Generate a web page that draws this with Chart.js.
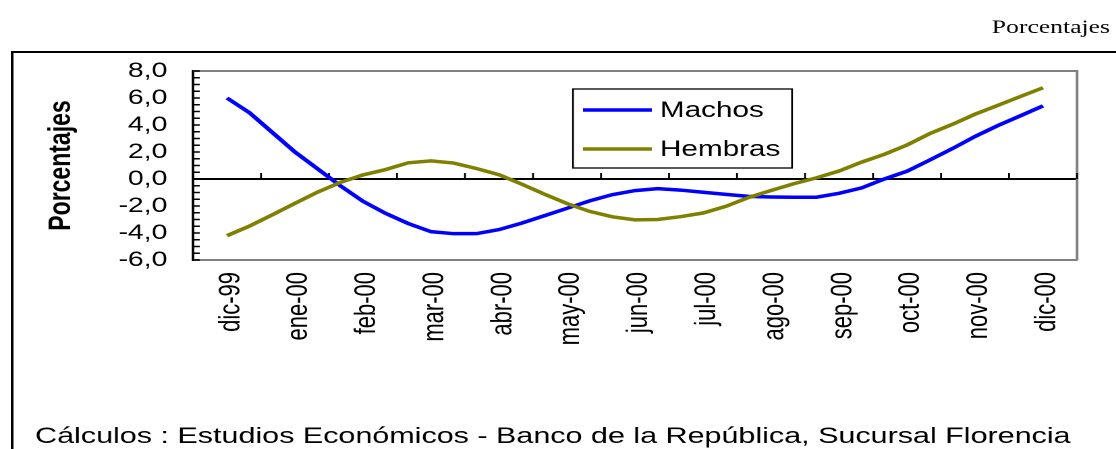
<!DOCTYPE html>
<html>
<head>
<meta charset="utf-8">
<script src="https://cdn.jsdelivr.net/npm/chart.js"></script>
<style>
  html, body { margin: 0; padding: 0; background: #fff; overflow: hidden; }
  /* the original picture is stretched sideways, so draw narrow and widen it */
  #wrap { width: 827px; height: 449px; transform: scaleX(1.3495); transform-origin: 0 0; }
</style>
</head>
<body>
<div id="wrap"><canvas id="chart" width="827" height="449"></canvas></div>
<script>
  // month labels on the x axis
  var months = ['dic-99', 'ene-00', 'feb-00', 'mar-00', 'abr-00', 'may-00', 'jun-00',
                'jul-00', 'ago-00', 'sep-00', 'oct-00', 'nov-00', 'dic-00'];

  // three readings per month
  var perMonth = 3;
  var machos = [6.0, 4.9, 3.45, 2.0, 0.75, -0.5, -1.65, -2.55, -3.3, -3.9, -4.05, -4.05, -3.75,
                -3.27, -2.72, -2.17, -1.62, -1.16, -0.86, -0.71, -0.82, -0.98, -1.14, -1.29, -1.33,
                -1.35, -1.35, -1.06, -0.66, 0.0, 0.58, 1.4, 2.25, 3.15, 3.95, 4.68, 5.42];
  var hembras = [-4.2, -3.48, -2.65, -1.8, -0.97, -0.25, 0.3, 0.7, 1.2, 1.34, 1.18, 0.78, 0.32,
                 -0.38, -1.12, -1.82, -2.4, -2.8, -3.03, -3.0, -2.79, -2.52, -2.03, -1.38, -0.85,
                 -0.35, 0.08, 0.59, 1.25, 1.83, 2.52, 3.36, 4.05, 4.8, 5.45, 6.11, 6.76];

  var yMin = -6, yMax = 8, yStep = 2, yMinor = 0.5;
  var seriesNames = ['Machos', 'Hembras'];
  var seriesColors = ['#0000ff', '#808000'];

  function toPoints(values) {
    return values.map(function(v, i) { return { x: i / perMonth, y: v }; });
  }

  var fontFamily = "'Liberation Sans', Arial, sans-serif";
  Chart.defaults.font.family = fontFamily;
  Chart.defaults.color = '#000';

  // axis bits, frame, legend and notes
  var decor = {
    id: 'decor',
    beforeDatasetsDraw: function(chart) {
      var ctx = chart.ctx, a = chart.chartArea, x = chart.scales.x, y = chart.scales.y;
      ctx.save();
      // gray plot border, top and right
      ctx.strokeStyle = '#808080';
      ctx.lineWidth = 2;
      ctx.beginPath();
      ctx.moveTo(a.left, a.top);
      ctx.lineTo(a.right, a.top);
      ctx.lineTo(a.right, a.bottom);
      ctx.stroke();
      // small ticks on the value axis
      ctx.strokeStyle = '#000';
      ctx.lineWidth = 1.5;
      for (var v = yMin; v <= yMax + 0.001; v += yMinor) {
        var py = y.getPixelForValue(v);
        ctx.beginPath();
        ctx.moveTo(a.left, py);
        ctx.lineTo(a.left + 5, py);
        ctx.stroke();
      }
      // month tick marks on the zero line
      var y0 = y.getPixelForValue(0);
      ctx.lineWidth = 1.4;
      for (var i = 0; i <= months.length; i++) {
        var px = x.getPixelForValue(i - 0.5);
        ctx.beginPath();
        ctx.moveTo(px, y0);
        ctx.lineTo(px, y0 - 6);
        ctx.stroke();
      }
      ctx.restore();
    },
    afterDraw: function(chart) {
      var ctx = chart.ctx;
      ctx.save();
      // outer frame
      ctx.strokeStyle = '#000';
      ctx.lineWidth = 2;
      ctx.beginPath();
      ctx.moveTo(9, 449);
      ctx.lineTo(9, 52);
      ctx.lineTo(827, 52);
      ctx.stroke();

      // legend box
      ctx.lineWidth = 1.3;
      ctx.strokeRect(424.6, 89, 162.3, 79);
      ctx.font = '22px ' + fontFamily;
      ctx.textBaseline = 'middle';
      ctx.textAlign = 'left';
      var rows = [110, 149];
      chart.data.datasets.forEach(function(ds, k) {
        ctx.strokeStyle = ds.borderColor;
        ctx.lineWidth = 3.5;
        ctx.beginPath();
        ctx.moveTo(432, rows[k]);
        ctx.lineTo(483, rows[k]);
        ctx.stroke();
        ctx.fillStyle = '#000';
        ctx.fillText(ds.label, 489, rows[k] + 1);
      });

      // unit note, top right
      ctx.font = "19px 'Liberation Serif', 'Times New Roman', serif";
      ctx.textAlign = 'right';
      ctx.fillText('Porcentajes', 822.5, 28);

      // source note
      ctx.font = '22.6px ' + fontFamily;
      ctx.textAlign = 'left';
      ctx.fillText('Cálculos : Estudios Económicos - Banco de la República, Sucursal Florencia', 26, 437);
      ctx.restore();
    }
  };

  var ctx = document.getElementById('chart').getContext('2d');
  var myChart = new Chart(ctx, {
    type: 'line',
    data: {
      datasets: [{
        label: seriesNames[0],
        data: toPoints(machos),
        borderColor: seriesColors[0],
        borderWidth: 3.5,
        pointRadius: 0,
        tension: 0,
        order: 1
      }, {
        label: seriesNames[1],
        data: toPoints(hembras),
        borderColor: seriesColors[1],
        borderWidth: 3.5,
        pointRadius: 0,
        tension: 0,
        order: 0
      }]
    },
    options: {
      responsive: false,
      animation: false,
      devicePixelRatio: 2,
      layout: { padding: { left: 0, top: 71, right: 28.9, bottom: 0 } },
      plugins: {
        legend: { display: false },
        tooltip: { enabled: false }
      },
      scales: {
        x: {
          type: 'linear',
          min: -0.5,
          max: months.length - 0.5,
          afterBuildTicks: function(scale) {
            scale.ticks = months.map(function(m, i) { return { value: i }; });
          },
          afterFit: function(scale) { scale.height = 189; },
          grid: { display: false, drawTicks: false },
          border: { display: true, color: '#808080', width: 2 },
          ticks: {
            autoSkip: false,
            minRotation: 90,
            maxRotation: 90,
            padding: 12,
            labelOffset: 3,
            font: { size: 22 },
            callback: function(value, index) { return months[index]; }
          }
        },
        y: {
          min: yMin,
          max: yMax,
          afterFit: function(scale) { scale.width = 143; },
          grid: {
            drawTicks: false,
            lineWidth: 2,
            color: function(c) { return c.tick && c.tick.value === 0 ? '#000' : 'rgba(0,0,0,0)'; }
          },
          border: { display: true, color: '#000', width: 2 },
          ticks: {
            autoSkip: false,
            stepSize: yStep,
            padding: 19,
            font: { size: 21 },
            callback: function(value) { return value.toFixed(1).replace('.', ','); }
          },
          title: {
            display: true,
            text: 'Porcentajes',
            font: { size: 23, weight: 'bold' },
            padding: { top: 32, bottom: 0 }
          }
        }
      }
    },
    plugins: [decor]
  });
</script>
</body>
</html>
